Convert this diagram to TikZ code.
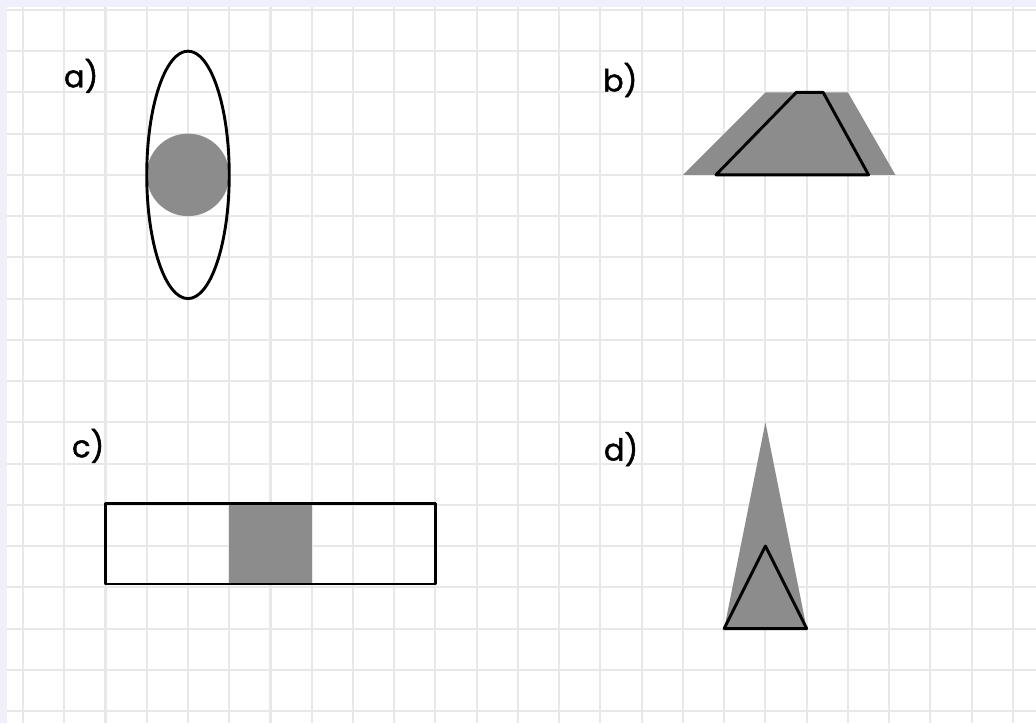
\documentclass[tikz,border=0pt]{standalone}
\usepackage{fontspec}
\setmainfont{Poppins}
\newfontfamily\tagfont[FakeBold=1.5]{Poppins}
\usepackage{xcolor}
\usepackage{tikz}
\usetikzlibrary{positioning}

\definecolor{paperedge}{RGB}{240,240,252}
\definecolor{gridgray}{RGB}{232,232,234}
\definecolor{shadegray}{RGB}{140,140,140}

\begin{document}
\begin{tikzpicture}[
    gridline/.style={draw=gridgray, line width=1.4pt},
    outline/.style={draw=black, line width=2pt, line join=round},
    shade/.style={fill=shadegray},
    tag/.style={font=\tagfont\fontsize{21}{24}\selectfont, inner sep=0pt}
]
\useasboundingbox (-0.558,-0.291) rectangle (24.56,17.24);
% squared paper
\fill[white] (-0.558,-0.291) rectangle (24.56,17.24);
\draw[gridline] (-0.4,-0.291) grid (24.56,17.07);
\fill[paperedge] (-0.558,17.07) rectangle (24.56,17.24);
\fill[paperedge] (-0.558,-0.291) rectangle (-0.388,17.24);

% a) ellipse and disc
\node[tag] (taga) at (1.41,15.4) {a)};
\fill[shade] (4,13) circle (1);
\draw[outline] (4,13) ellipse (1 and 3);

% b) trapezoids
\node[tag] (tagb) at (14.48,15.3) {b)};
\fill[shade] (16,13) -- (21.15,13) -- (20,15) -- (18,15) -- cycle;
\draw[outline] (16.8,13) -- (20.5,13) -- (19.4,15) -- (18.75,15) -- cycle;

% c) strip with one shaded square
\node[tag] (tagc) at (1.58,6.43) {c)};
\fill[shade] (5,3.08) rectangle (7,5.04);
\draw[outline] (2,3.08) rectangle (10,5.04);

% d) triangles
\node[tag] (tagd) at (14.5,6.35) {d)};
\fill[shade] (17,2) -- (19,2) -- (18,7) -- cycle;
\draw[outline] (17,2) -- (19,2) -- (18,4) -- cycle;
\end{tikzpicture}
\end{document}
